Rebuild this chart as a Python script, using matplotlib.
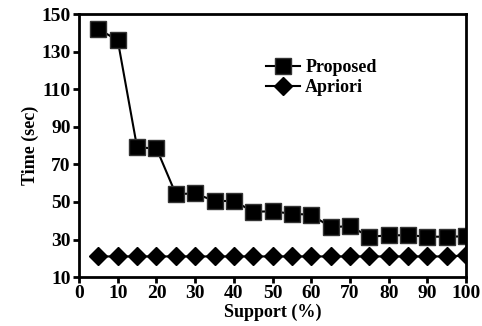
import matplotlib
matplotlib.use("Agg")
import matplotlib.pyplot as plt

support = [5, 10, 15, 20, 25, 30, 35, 40, 45, 50,
           55, 60, 65, 70, 75, 80, 85, 90, 95, 100]
proposed = [142, 136, 79, 78.5, 54.2, 54.5, 50.5, 50.5, 44.8, 45,
            43.7, 43.2, 36.6, 37.1, 31.5, 32.2, 32.3, 31.5, 31.5, 31.7]
apriori = [21, 21, 21, 21, 21, 21, 21, 21, 21, 21,
           21, 21, 21, 21, 21, 21, 21, 21, 21, 21.5]
xticks = list(range(0, 101, 10))
yticks = list(range(10, 151, 20))

plt.rcParams["font.family"] = ["Liberation Serif", "DejaVu Serif"]

fig = plt.figure(figsize=(4.82, 3.26), dpi=100)
ax = fig.add_axes([0.164, 0.150, 0.803, 0.807])

ax.plot(support, proposed, "-s", color="black", lw=1.5, ms=11,
        mfc="black", mec="#333333", label="Proposed")
ax.plot(support, apriori, "-D", color="black", lw=1.5, ms=9,
        label="Apriori")

ax.set_xlim(0, 100)
ax.set_ylim(10, 150)
ax.set_xticks(xticks)
ax.set_yticks(yticks)
ax.tick_params(labelsize=14, width=2, length=4, direction="out", pad=2)
for lab in ax.get_xticklabels() + ax.get_yticklabels():
    lab.set_fontweight("bold")
for s in ax.spines.values():
    s.set_linewidth(2)

ax.set_xlabel("Support (%)", fontsize=13, fontweight="bold", labelpad=1)
ax.set_ylabel("Time (sec)", fontsize=13, fontweight="bold", labelpad=2)

ax.legend(loc="upper left", bbox_to_anchor=(0.44, 0.89), frameon=False,
          handlelength=1.9, handletextpad=0.3, labelspacing=0.15,
          prop={"weight": "bold", "size": 13})

fig.savefig("out.png", dpi=100)
